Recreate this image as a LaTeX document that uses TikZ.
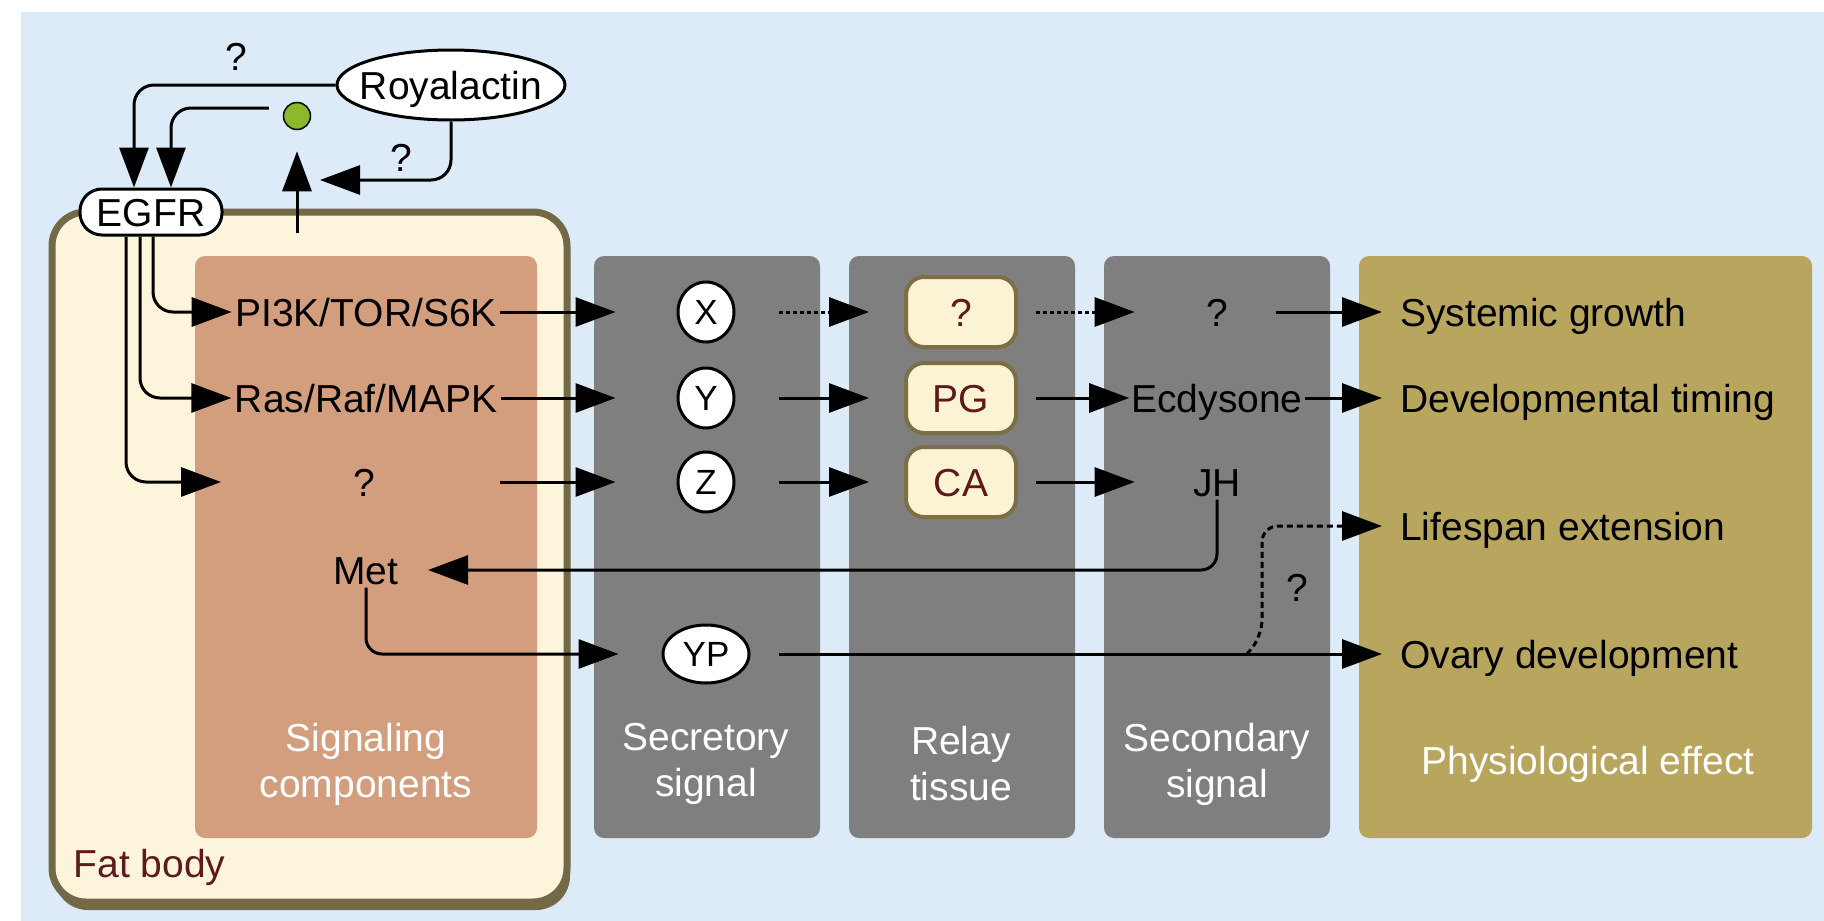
\documentclass[tikz,border=0pt]{standalone}
\usepackage{fontspec}
\setmainfont{Liberation Sans}
\usetikzlibrary{arrows.meta,shapes.geometric}
\definecolor{bgblue}{HTML}{DDEAF8}
\definecolor{fatfill}{HTML}{FCF5DC}
\definecolor{fatline}{HTML}{736946}
\definecolor{salmon}{HTML}{D39E7E}
\definecolor{graybox}{HTML}{7F7F7F}
\definecolor{olive}{HTML}{B8A65E}
\definecolor{relayfill}{HTML}{FCF3D5}
\definecolor{relayline}{HTML}{7C6E45}
\definecolor{darkred}{HTML}{5E1A1A}
\definecolor{dotgreen}{HTML}{8CB82B}
\newcommand\mytxt{\fontsize{39}{46}\selectfont}
\begin{document}
\begin{tikzpicture}[x=1pt,y=-1pt,
 font=\mytxt,
 ln/.style={line width=3pt},
 arr/.style={ln, -{Triangle[length=40pt,width=29pt]}},
 dots/.style={dash pattern=on 4pt off 3pt},
 dsh/.style={dash pattern=on 6pt off 4pt},
 one/.style={text height=28pt, text depth=0pt},
 panel/.style={rounded corners=10pt},
 wlbl/.style={text=white, align=center},
 sig/.style={ellipse, draw, fill=white, line width=3pt, minimum width=56pt, minimum height=60pt, inner sep=0pt, font=\fontsize{35}{40}\selectfont},
 relay/.style={draw=relayline, fill=relayfill, line width=4pt, rounded corners=18pt, minimum width=110pt, minimum height=70pt, inner sep=0pt, text=darkred, one},
 effect/.style={anchor=west, one, inner xsep=18pt},
]
\useasboundingbox (0,0) rectangle (1824,921);
\fill[white] (0,0) rectangle (1824,921);
\fill[bgblue] (21,12) rectangle (1824,921);

% fat body
\fill[fatline, rounded corners=34pt] (54,218) rectangle (570,910);
\draw[fatline, fill=fatfill, line width=7pt, rounded corners=34pt] (52,212) rectangle (567,902);

% panels
\fill[salmon, panel] (195,256) rectangle (537,838);
\fill[graybox, panel] (594,256) rectangle (820,838);
\fill[graybox, panel] (849,256) rectangle (1075,838);
\fill[graybox, panel] (1104,256) rectangle (1330,838);
\fill[olive, panel] (1359,256) rectangle (1812,838);

% panel labels
\node[wlbl] (lsig) at (366,764) {Signaling\\components};
\node[wlbl] (lsec) at (706,764) {Secretory\\signal};
\node[wlbl] (lrel) at (961,764) {Relay\\tissue};
\node[wlbl] (lsnd) at (1217,764) {Secondary\\signal};
\node[wlbl] (lphy) at (1588,764) {Physiological effect};
\node[anchor=west, text=darkred] (lfat) at (70,867) {Fat body};

% top nodes
\node[ellipse, draw, fill=white, line width=3pt, minimum width=228pt, minimum height=70pt, inner sep=0pt, one] (roy) at (451,85) {\makebox[0pt]{Royalactin}};
\node[circle, draw, fill=dotgreen, line width=1.5pt, minimum size=27pt, inner sep=0pt] (dot) at (297,116) {};
\node[draw, fill=white, line width=3pt, rounded corners=22pt, minimum width=142pt, minimum height=46pt, inner sep=0pt, one] (egfr) at (151,212) {EGFR};
\coordinate (upstart) at (297,233);
\coordinate (uptip) at (320,180);
\node[one] (q1) at (236,56) {?};
\node[one] (q2) at (401,157) {?};

% signaling components
\node[one] (pi3k) at (366,312) {PI3K/TOR/S6K};
\node[one] (ras) at (366,398) {Ras/Raf/MAPK};
\node[one] (unk) at (364,482) {?};
\node[one] (met) at (366,570) {Met};
\coordinate (qin) at (221,482);

% secretory
\node[sig] (X) at (706,312) {X};
\node[sig] (Y) at (706,398) {Y};
\node[sig] (Z) at (706,482) {Z};
\node[sig, minimum width=86pt, minimum height=58pt] (YP) at (706,654) {YP};

% relay
\node[relay] (r1) at (961,312) {?};
\node[relay] (r2) at (961,398) {PG};
\node[relay] (r3) at (961,482) {CA};

% secondary
\node[one] (s1) at (1217,312) {?};
\node[one, inner sep=2pt] (ecd) at (1217,398) {Ecdysone};
\node[one] (jh) at (1217,482) {JH};

% effects
\node[effect] (e1) at (1382,312) {Systemic growth};
\node[effect] (e2) at (1382,398) {Developmental timing};
\node[effect] (e3) at (1382,526) {Lifespan extension};
\node[effect] (e4) at (1382,654) {Ovary development};
\node[one] (q3) at (1297,587) {?};
\coordinate (dsplit) at (1247,654);
\coordinate (dbend) at (1262,636);

% top connectors
\draw[arr, rounded corners=20pt] (roy.west) -| ([xshift=-17pt]egfr.north);
\draw[arr, rounded corners=20pt] ([xshift=-14pt,yshift=8pt]dot.west) -| ([xshift=20pt]egfr.north);
\draw[arr] (upstart) -- ([yshift=-21pt]dot.south);
\draw[arr, rounded corners=20pt] (roy.south) |- (uptip);

% EGFR branches
\draw[arr, rounded corners=20pt] ([xshift=2pt]egfr.south) |- (pi3k.west);
\draw[arr, rounded corners=20pt] ([xshift=-11pt]egfr.south) |- (ras.west);
\draw[arr, rounded corners=20pt] ([xshift=-25pt]egfr.south) |- (qin);

% rows
\draw[arr, shorten >=61pt] (pi3k.east) -- (X.west);
\draw[arr, shorten >=61pt] (ras.east) -- (Y.west);
\draw[arr, shorten <=122pt, shorten >=61pt] (unk.east) -- (Z.west);

\draw[arr, dots, shorten <=43pt, shorten >=35pt] (X.east) -- (r1.west);
\draw[arr, shorten <=43pt, shorten >=35pt] (Y.east) -- (r2.west);
\draw[arr, shorten <=43pt, shorten >=35pt] (Z.east) -- (r3.west);

\draw[arr, dots, shorten <=18pt, shorten >=68pt] (r1.east) -- (s1.west);
\draw[arr, shorten <=18pt] (r2.east) -- (ecd.west);
\draw[arr, shorten <=18pt, shorten >=55pt] (r3.east) -- (jh.west);

\draw[arr, shorten <=45pt] (s1.east) -- (e1.west);
\draw[arr] (ecd.east) -- (e2.west);

\draw[arr, rounded corners=16pt, shorten >=26pt] (jh.south) |- (met.east);
\draw[arr, rounded corners=16pt, shorten >=43pt] (met.south) |- (YP.west);
\draw[arr, shorten <=28pt] (YP.east) -- (e4.west);
\draw[arr, dsh, rounded corners=16pt] (dsplit) -- (dbend) |- (e3.west);
\end{tikzpicture}
\end{document}
